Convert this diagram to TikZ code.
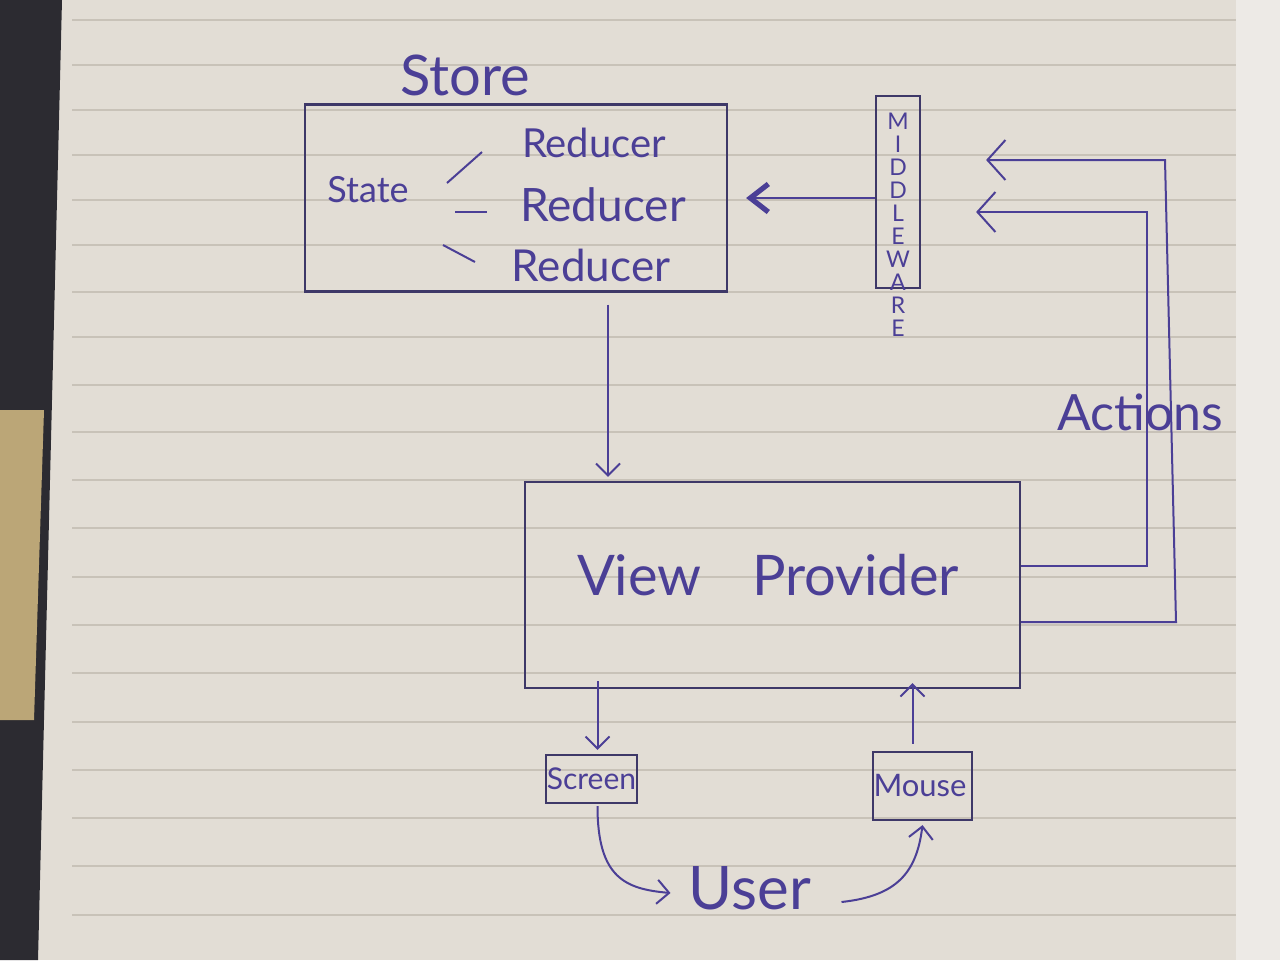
\documentclass[tikz,border=0pt]{standalone}
\usepackage{fontspec}
\setmainfont{Lato}
\usetikzlibrary{arrows.meta,calc}
\definecolor{ink}{HTML}{4B3F96}
\definecolor{inkdark}{HTML}{3E3868}
\definecolor{paper}{HTML}{E2DDD5}
\definecolor{rulecol}{HTML}{C8C2B8}
\definecolor{desk}{HTML}{2C2B31}
\definecolor{tanc}{HTML}{BBA677}
\definecolor{cover}{HTML}{EDEAE6}
\tikzset{
  box/.style={draw=inkdark, line width=1.1pt, inner sep=0pt},
  txt/.style={text=ink, inner sep=0pt},
  inkline/.style={draw=ink, line width=1pt},
  arr/.style={inkline, -{Straight Barb[length=6pt,width=12pt]}},
  bigarr/.style={inkline, -{Straight Barb[length=9pt,width=20pt]}},
  boldarr/.style={draw=ink, line width=1.2pt, -{Straight Barb[length=9pt,width=14pt,line width=2.6pt]}},
  mwletter/.style={txt, font=\fontsize{11.5}{11.5}\selectfont}
}
\begin{document}
\begin{tikzpicture}[x=0.5pt,y=-0.5pt]
\useasboundingbox (0,0) rectangle (1280,960);
% paper background
\fill[paper] (0,0) rectangle (1280,960);
\fill[cover] (1236,0) rectangle (1280,960);
\fill[desk] (0,0) -- (62,0) -- (38,960) -- (0,960) -- cycle;
\fill[tanc] (0,410) -- (44,410) -- (34,720) -- (0,720) -- cycle;
\foreach \yy in {20,65,110,155,200,245,292,337,385,432,480,528,577,625,673,722,770,818,866,915}
  \draw[rulecol, line width=0.6pt] (72,\yy) -- (1236,\yy);

% Store
\node[txt, font=\fontsize{28}{28}\selectfont] (storelbl) at (465,75) {Store};
\node[box, minimum width=211pt, minimum height=93.5pt] (store) at (516,198) {};
\node[txt, font=\fontsize{18}{18}\selectfont] (state) at (368,190) {State};
\node[txt, font=\fontsize{20}{20}\selectfont] (r1) at (594,143) {Reducer};
\node[txt, font=\fontsize{23}{23}\selectfont] (r2) at (603,205) {Reducer};
\node[txt, font=\fontsize{22}{22}\selectfont] (r3) at (591,265) {Reducer};
\draw[inkline] (447,183) -- (482,152);
\draw[inkline] (455,212) -- (487,212);
\draw[inkline] (443,245) -- (475,262);

% Middleware
\node[box, minimum width=22pt, minimum height=96pt] (mw) at (898,192) {};
\foreach \L [count=\i] in {M,I,D,D,L,E,W,A,R,E}
  \node[mwletter] (mwl\i) at (898,{121+23*(\i-1)}) {\L};
\draw[boldarr] (mw.west |- store.east) -- ($(store.east)+(18,0)$);

% View Provider
\node[box, minimum width=247.5pt, minimum height=103pt] (view) at (772.5,585) {};
\node[txt, font=\fontsize{28}{28}\selectfont] (viewlbl) at (768,575) {View\hspace{0.9em}Provider};
\draw[arr] ($(store.south)+(92,12)$) -- ($(view.north)+(-164.5,-4)$);

% Actions
\coordinate (a1) at ($(mw.east)+(65,-32)$);
\coordinate (a2) at ($(mw.east)+(55,20)$);
\draw[bigarr] ($(view.east)+(0,-19)$) -- (1147,566) -- (1147,212) -- (a2);
\draw[bigarr] ($(view.east)+(0,37)$) -- (1176,622) -- (1165,160) -- (a1);
\node[txt, font=\fontsize{25}{25}\selectfont] (actions) at (1140,412) {Actions};

% Screen and Mouse
\node[box, minimum width=45.5pt, minimum height=24pt] (screen) at (591.5,779) {};
\node[txt, font=\fontsize{15}{15}\selectfont] (screenlbl) at (591.5,779) {Screen};
\node[box, minimum width=49.5pt, minimum height=34pt] (mouse) at (922.5,786) {};
\node[txt, font=\fontsize{15.5}{15.5}\selectfont] (mouselbl) at (920,786) {Mouse};
\draw[arr] ($(screen.north |- view.south)+(6,-8)$) -- ($(screen.north)+(6,-4)$);
\draw[arr] ($(mouse.north)+(-10,-7)$) -- ($(mouse.north |- view.south)+(-10,-6)$);

% User
\node[txt, font=\fontsize{30}{30}\selectfont] (user) at (750,888) {User};
\coordinate (u1) at ($(user.west)+(-18,5)$);
\coordinate (u2) at ($(user.east)+(30,14)$);
\draw[arr] ($(screen.south)+(6,2)$) .. controls +(0,72) and +(-45,-4) .. (u1);
\draw[arr] (u2) .. controls +(55,-6) and +(-6,48) .. ($(mouse.south)+(0,4)$);
\end{tikzpicture}
\end{document}
